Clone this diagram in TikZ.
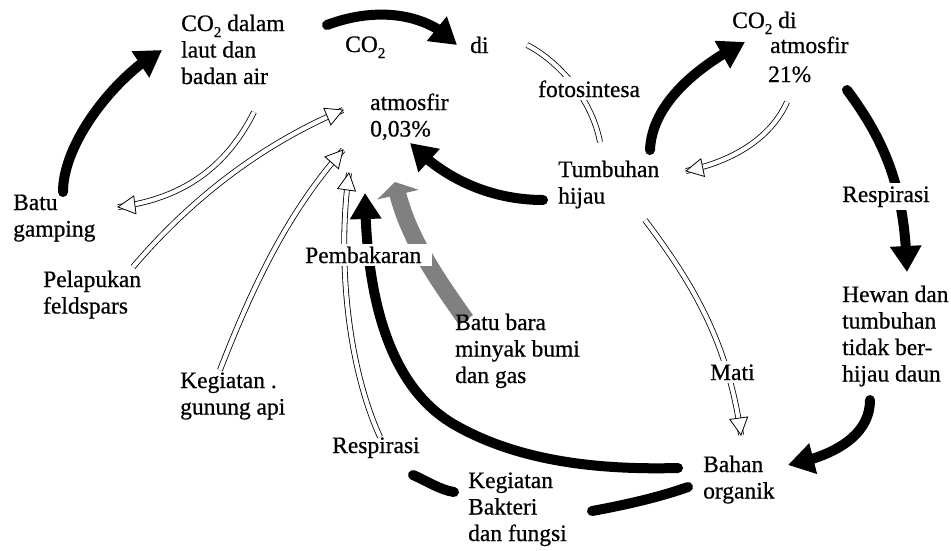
\documentclass[tikz,border=0pt]{standalone}
\usepackage{fontspec}
\setmainfont{Liberation Serif}[FakeBold=0.6]
\usetikzlibrary{arrows.meta,bending,decorations.markings}

\tikzset{
  lbl/.style={anchor=base west, inner sep=0pt, font=\fontsize{23.5}{26.5}\selectfont},
  blbl/.style={lbl, fill=white, inner xsep=3pt, inner ysep=3pt},
  bigarrow/.style={line width=10pt, line cap=round, -{Triangle[length=26pt,width=30pt]}},
  bigline/.style={line width=10pt, line cap=round},
  fuel/.style={line width=17pt, draw=black!50, -{Triangle[length=13pt,width=42pt]}},
  hollow/.style={
    postaction={draw, line width=0.8pt, double=white, double distance=4.2pt},
    postaction={decorate, decoration={markings, mark=at position 1 with
      {\draw[line width=0.8pt, fill=white, line join=miter]
         (0pt,0pt) -- (-17pt,9pt) -- (-17pt,-9pt) -- cycle;}}}}
}
\newcommand{\lines}[1]{\begin{tabular}[t]{@{}l@{}}#1\end{tabular}}
% carbon dioxide with a low-set index
\newcommand{\cotwo}{CO\raisebox{-6pt}{\fontsize{15}{15}\selectfont 2}}

\begin{document}
\begin{tikzpicture}[x=1pt,y=-1pt]
\fill[white] (0,0) rectangle (951,550);
\useasboundingbox (0,0) rectangle (951,550);

% end points of the connectors
\coordinate (gampingTop) at (63,192);
\coordinate (lautTip)    at (162,50);
\coordinate (topStart)   at (327,25);
\coordinate (diTip)      at (457,45);
\coordinate (hijauEnd)   at (543,200);
\coordinate (atmTip)     at (410,143);
\coordinate (tumbTop)    at (650,150);
\coordinate (atm2Tip)    at (745,42);
\coordinate (respTop)    at (847,90);
\coordinate (hewanTip)   at (907,272);
\coordinate (hewanBot)   at (870,400);
\coordinate (bahanTip)   at (788,465);
\coordinate (bahanL)     at (678,468);
\coordinate (arcMid)     at (455,425);
\coordinate (pembTip)    at (365,193);
\coordinate (respA)      at (413,475);
\coordinate (respB)      at (454,492);
\coordinate (bakA)       at (592,511);
\coordinate (bakB)       at (688,487);
\coordinate (baraTail)   at (466,320);
\coordinate (baraTip)    at (395,182);
\coordinate (lautS)      at (254,112);
\coordinate (gampingTip) at (118,207);
\coordinate (felds)      at (133,267);
\coordinate (atmA)       at (343,110);
\coordinate (gunung)     at (220,370);
\coordinate (atmB)       at (343,150);
\coordinate (resp2Top)   at (380,437);
\coordinate (atmC)       at (349,173);
\coordinate (diR)        at (527,45);
\coordinate (tumbTip)    at (600,142);
\coordinate (atm2S)      at (787,102);
\coordinate (tumbR)      at (686,171);
\coordinate (tumbBot)    at (645,220);
\coordinate (bahanTop)   at (741,435);

% black flows
\draw[bigarrow] (gampingTop) .. controls (63,140) and (120,72) .. (lautTip);
\draw[bigarrow] (topStart) .. controls (380,5) and (430,15) .. (diTip);
\draw[bigarrow] (hijauEnd) .. controls (500,200) and (450,185) .. (atmTip);
\draw[bigarrow] (tumbTop) .. controls (652,100) and (705,62) .. (atm2Tip);
\draw[bigarrow] (respTop) .. controls (892,150) and (905,200) .. (hewanTip);
\draw[bigarrow] (hewanBot) .. controls (870,440) and (825,458) .. (bahanTip);
\draw[bigarrow] (bahanL) .. controls (600,470) and (520,462) .. (arcMid)
                .. controls (390,388) and (366,300) .. (pembTip);
\draw[bigline] (respA) .. controls (425,480) and (440,490) .. (respB);
\draw[bigline] (bakA) .. controls (625,505) and (660,497) .. (bakB);

% fossil fuel flow
\draw[fuel] (baraTail) .. controls (432,272) and (405,232) .. (baraTip);

% hollow flows
\path[hollow] (lautS) .. controls (230,160) and (190,198) .. (gampingTip);
\path[hollow] (felds) .. controls (190,200) and (260,145) .. (atmA);
\path[hollow] (gunung) .. controls (255,280) and (290,210) .. (atmB);
\path[hollow] (resp2Top) .. controls (345,360) and (338,250) .. (atmC);
\path[hollow] (diR) .. controls (560,62) and (592,100) .. (tumbTip);
\path[hollow] (atm2S) .. controls (770,140) and (730,162) .. (tumbR);
\path[hollow] (tumbBot) .. controls (690,280) and (728,340) .. (bahanTop);

% labels lying on connectors
\node[blbl] (foto) at (535,97) {fotosintesa};
\node[blbl] (resp1) at (839,202) {Respirasi};
\node[blbl, text width=124pt, align=left] (pemb) at (302,263) {Pembakaran};
\node[blbl] (mati) at (707,380) {Mati};

% other labels
\node[lbl] (laut) at (181,31) {\lines{\cotwo{} dalam\\laut dan\\badan air}};
\node[lbl] (co2a) at (345,52) {\cotwo};
\node[lbl] (di) at (470,53) {di};
\node[lbl] (atm) at (370,110) {\lines{atmosfir\\0,03\%}};
\node[lbl] (tumb) at (558,177) {\lines{Tumbuhan\\hijau}};
\node[lbl] (co2b) at (732,28) {\cotwo{} di};
\node[lbl] (atm2) at (770,53) {atmosfir};
\node[lbl] (pct) at (768,82) {21\%};
\node[lbl] (hewan) at (842,302) {\lines{Hewan dan\\tumbuhan\\tidak ber-\\hijau daun}};
\node[lbl] (batu) at (13,210) {\lines{Batu\\gamping}};
\node[lbl] (pelap) at (43,287) {\lines{Pelapukan\\feldspars}};
\node[lbl] (gunungapi) at (180,388) {\lines{Kegiatan .\\gunung api}};
\node[lbl] (bara) at (455,330) {\lines{Batu bara\\minyak bumi\\dan gas}};
\node[lbl] (resp2) at (332,453) {Respirasi};
\node[lbl] (bakteri) at (468,488) {\lines{Kegiatan\\Bakteri\\dan fungsi}};
\node[lbl] (bahan) at (703,472) {\lines{Bahan\\organik}};
\end{tikzpicture}
\end{document}
